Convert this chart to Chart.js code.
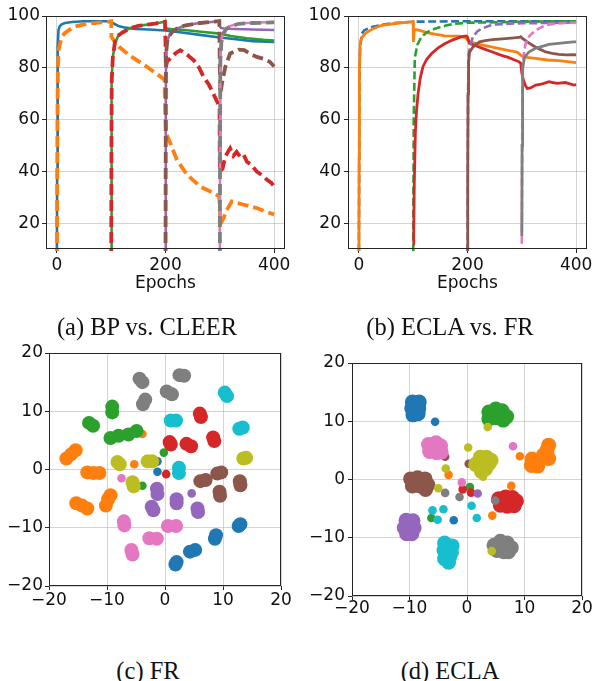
<!DOCTYPE html>
<html>
<head>
<meta charset="utf-8">
<script src="https://cdn.jsdelivr.net/npm/chart.js@4.4.0/dist/chart.umd.min.js"></script>
<style>
body { margin: 0; background: #fff; width: 593px; height: 681px; position: relative; overflow: hidden; }
canvas { position: absolute; }
.cap { position: absolute; font-family: "Liberation Serif", serif; font-size: 24.5px; line-height: 28px; color: #111; white-space: nowrap; transform: translateX(-50%); }
</style>
</head>
<body>
<canvas id="chartA" width="296" height="300" style="left:0;top:0"></canvas>
<canvas id="chartB" width="297" height="300" style="left:296px;top:0"></canvas>
<canvas id="chartC" width="296" height="290" style="left:0;top:330px"></canvas>
<canvas id="chartD" width="297" height="290" style="left:296px;top:330px"></canvas>
<div class="cap" id="capA" style="left:147px;top:313px"></div>
<div class="cap" id="capB" style="left:450px;top:313px"></div>
<div class="cap" id="capC" style="left:148px;top:657px"></div>
<div class="cap" id="capD" style="left:450px;top:657px"></div>
<script>
// captions and ticks
const captions = ['(a) BP vs. CLEER', '(b) ECLA vs. FR', '(c) FR', '(d) ECLA'];
const epochTicks = [0, 200, 400];
const accTicks = [20, 40, 60, 80, 100];
const tsneTicks = [-20, -10, 0, 10, 20];

const tab10 = ['#1f77b4', '#ff7f0e', '#2ca02c', '#d62728', '#9467bd',
               '#8c564b', '#e377c2', '#7f7f7f', '#bcbd22', '#17becf'];

// (a) BP vs. CLEER accuracy curves
const aBlueX = [0, 0.5, 1, 2, 3, 5, 9, 15, 28, 50, 95, 100, 107, 115, 126, 144, 170, 199, 230, 260, 300, 330, 360, 400];
const aBlueY = [0, 40, 75, 88, 94.5, 96, 96.8, 97.3, 97.7, 98, 98, 97.8, 96.8, 96, 95.5, 95, 94.8, 94.4, 93.6, 92.8, 91.7, 91, 90.3, 90];
const aOrangeX = [0, 0.5, 1, 2, 3, 6, 9, 15, 31, 55, 92, 100, 100.5, 105, 115, 126, 138, 165, 198, 200, 201, 209, 221, 240, 264, 285, 299, 300, 301, 307, 313, 322, 344, 368, 392, 400];
const aOrangeY = [0, 30, 60, 80, 86.8, 89.5, 91.9, 93.5, 95.8, 97, 97.7, 98, 92, 90.5, 88, 86.1, 84.2, 80.5, 75.5, 60, 54.7, 50.8, 44.4, 38.6, 34.1, 32, 30.3, 25, 19.5, 22, 25.1, 28.4, 27.1, 25.8, 23.9, 23.3];
const aGreenX = [100, 100.5, 101, 103, 107, 112, 120, 135, 150, 181, 199, 200, 202, 210, 240, 270, 300, 320, 350, 380, 400];
const aGreenY = [0, 50, 75, 84, 89.5, 92, 93.8, 95.3, 96.2, 97.1, 97.8, 96, 95.2, 95, 94.5, 93.8, 93.2, 92.3, 91.4, 90.8, 90.5];
const aRedX = [100, 100.5, 101, 103, 107, 112, 120, 135, 150, 181, 199, 200, 200.5, 203, 209, 218, 227, 240, 252, 262, 270, 280, 288, 296, 299.5, 300, 305, 310, 315, 319, 325, 331, 338, 344, 350, 358, 368, 378, 387, 395, 400];
const aRedY = [0, 50, 75, 84, 90, 92.3, 93.5, 95.3, 96.2, 97.1, 97.8, 90, 80, 82.5, 83.6, 85.5, 86.8, 85, 82.9, 80, 76.5, 73.5, 70, 66.5, 64.3, 40, 41, 45.7, 47.5, 48.9, 46, 47.5, 45.5, 46.3, 43.7, 42.5, 39.9, 38.5, 36.7, 35.5, 34.1];
const aPurpleX = [200, 200.5, 201, 203, 206, 212, 220, 235, 260, 290, 299, 300, 302, 310, 330, 360, 400];
const aPurpleY = [0, 60, 85, 90, 92, 93.8, 95, 96.3, 97.2, 97.8, 98, 96, 95.4, 95.1, 95, 94.8, 94.6];
const aBrownX = [200, 200.5, 201, 203, 206, 212, 220, 235, 260, 290, 299, 300, 301, 304, 310, 319, 327, 335, 345, 355, 368, 380, 392, 400];
const aBrownY = [0, 60, 85, 90, 92, 93.8, 95, 96.3, 97.2, 97.8, 98, 80, 70, 74, 80.3, 85.5, 86.2, 87, 86.8, 85.5, 84.2, 83.5, 82.3, 80.5];
const aPinkX = [300, 300.5, 301, 303, 306, 312, 320, 335, 360, 400];
const aPinkY = [0, 60, 85, 91, 93.5, 95.3, 96.2, 97.1, 97.4, 97.7];
const aGrayX = [300, 300.5, 301, 303, 306, 312, 320, 335, 360, 400];
const aGrayY = [0, 55, 83, 90, 93, 95, 96, 97, 97.3, 97.5];

// (b) ECLA vs. FR accuracy curves
const bBlueX = [0, 0.5, 1, 2, 3, 5.5, 10, 24, 45, 66, 100, 150, 200, 250, 300, 350, 400];
const bBlueY = [0, 40, 75, 86, 89, 93.2, 94.5, 95.8, 96.7, 97.3, 97.8, 97.9, 98, 98, 98, 98, 98];
const bOrangeX = [0, 0.5, 1, 2.4, 5, 11.6, 25, 42, 70, 97, 100, 100.5, 102, 110, 127, 158, 185, 197, 203.7, 222, 246, 270, 292, 300.5, 310, 325, 347, 368, 396, 400];
const bOrangeY = [0, 45, 80, 89.3, 91.5, 93.2, 95, 96.4, 97.2, 97.7, 97.8, 90, 94.8, 94.5, 93.5, 92.3, 92.2, 91.5, 90, 89, 88, 86.9, 86, 84.5, 84, 83.6, 83, 82.8, 82.1, 82];
const bGreenX = [100, 100.5, 101, 103, 108, 115, 125, 140, 160, 176, 200, 225, 260, 300, 350, 400];
const bGreenY = [0, 30, 60, 84, 89, 91.9, 93.7, 95.1, 96.3, 97, 97.4, 97.5, 97.6, 97.8, 97.9, 98];
const bRedX = [100, 101, 102, 104, 106, 109, 113, 118, 125, 134, 146, 158, 172, 188, 197.6, 200, 203.7, 215, 230, 246, 260, 275, 295, 298, 300, 302, 304, 307, 310, 316, 325.7, 338, 350, 365, 380, 396, 400];
const bRedY = [12, 16, 35, 54.7, 63, 70, 76, 80.4, 83.3, 85.5, 87.7, 89.3, 90.7, 91.9, 92.3, 91.9, 89.4, 88.5, 87.3, 86.1, 85, 84, 82.3, 81.7, 78, 76, 74.6, 73, 72, 72.2, 73.3, 73.8, 74.6, 74, 74.3, 73.3, 73.5];
const bPurpleX = [200, 200.5, 201, 202, 205, 210, 218, 225, 240, 250, 275, 300, 350, 400];
const bPurpleY = [0, 40, 70, 85, 88.5, 92, 94, 95, 96.2, 96.7, 97, 97.2, 97.3, 97.5];
const bBrownX = [200, 200.5, 201, 202, 203.7, 210, 222, 235, 246, 270, 295, 298, 300, 310, 319.5, 332, 344, 356, 368, 382, 396, 400];
const bBrownY = [0, 40, 70, 82, 86, 88, 90, 90.6, 90.9, 91.3, 91.7, 92, 91.5, 90, 88.7, 87.3, 86.1, 85.6, 85.2, 85, 85.1, 85];
const bPinkX = [300, 300.5, 301, 302, 304, 307, 313, 319, 330, 344, 360, 380, 400];
const bPinkY = [12, 40, 70, 80, 86, 89.4, 92, 93.3, 95, 96.5, 97, 97.3, 97.5];
const bGrayX = [300, 300.5, 301, 302, 305, 313, 325, 337.5, 350, 368, 385, 396, 400];
const bGrayY = [15, 50, 75, 80, 84, 86.1, 87.5, 88.3, 89, 89.4, 89.8, 90, 90];

// (c) FR t-SNE: cluster points and stray points per class
const frBlob = [
  [[1.8, -16.3], [2.0, -15.9], [4.3, -14.1], [5.2, -13.8], [8.6, -11.9], [8.8, -11.3], [12.7, -9.7], [13.0, -9.4]],
  [[-17.0, 1.9], [-16.2, 2.6], [-15.4, 3.3], [-13.4, -0.5], [-12.3, -0.6], [-11.3, -0.6], [-15.3, -5.8], [-14.3, -6.2], [-13.4, -6.7], [-10.2, -6.2], [-9.8, -5.1], [-9.4, -4.4]],
  [[-9.1, 9.8], [-9.1, 10.8], [-13.1, 8.0], [-12.4, 7.5], [-9.4, 5.4], [-8.0, 5.8], [-6.3, 6.0], [-4.9, 6.6]],
  [[6.0, 9.6], [6.2, 9.0], [0.8, 4.7], [1.0, 4.3], [3.7, 4.4], [4.5, 4.0], [8.3, 5.5], [8.5, 4.9]],
  [[-1.4, -3.3], [-1.3, -4.2], [2.0, -5.1], [2.0, -5.8], [5.6, -6.7], [5.7, -7.3], [-2.3, -6.4], [-2.0, -7.0]],
  [[6.1, -2.0], [7.0, -1.8], [9.0, -0.7], [9.7, -0.5], [9.4, -3.8], [9.5, -4.5], [12.9, -2.0], [13.0, -2.7]],
  [[-7.1, -8.9], [-7.0, -9.6], [-5.8, -13.8], [-5.6, -14.6], [-2.7, -11.8], [-1.4, -11.9], [0.5, -9.7], [1.9, -9.7]],
  [[-4.4, 15.6], [-3.9, 15.0], [-3.8, 11.2], [-3.4, 12.0], [2.5, 16.2], [3.3, 16.1], [0.3, 13.4], [1.2, 12.9]],
  [[-8.2, 1.3], [-7.8, 0.9], [-3.0, 1.4], [-2.2, 1.4], [-5.6, -2.2], [-5.4, -2.9], [13.5, 1.9], [14.0, 2.0]],
  [[10.3, 13.2], [10.7, 12.6], [1.0, 8.4], [1.9, 8.4], [12.8, 7.0], [13.4, 7.2], [2.4, 0.3], [2.4, -0.6]]
];
const frStray = [
  [[-1.3, 1.4], [-1.3, -0.4]],
  [[-5.3, 0.9], [-3.9, 6.1]],
  [[-0.2, 2.9], [-3.9, -2.8]],
  [[0.2, -0.8]],
  [[4.6, -4.1]],
  [],
  [[-7.5, -1.5]],
  [],
  [],
  []
];

// (d) ECLA t-SNE
const eclaBlob = [
  [[-9.5, 13.3], [-8.3, 13.3], [-9.6, 12.2], [-8.4, 12.2], [-9.4, 11.1], [-8.5, 11.3]],
  [[11.2, 2.4], [12.3, 2.3], [11.3, 3.5], [12.6, 3.4], [13.3, 4.2], [13.9, 5.0], [14.2, 5.9], [14.2, 3.6]],
  [[3.8, 11.6], [5.0, 12.1], [6.1, 11.8], [3.8, 10.4], [5.0, 10.6], [6.3, 10.2], [6.9, 10.8]],
  [[5.5, -3.3], [6.7, -3.0], [7.9, -3.1], [8.6, -3.7], [5.8, -4.4], [7.0, -4.6], [8.2, -4.5]],
  [[-10.6, -7.0], [-9.4, -7.1], [-10.9, -8.3], [-9.2, -8.3], [-10.5, -9.3], [-9.6, -9.3], [-10.0, -8.0]],
  [[-9.8, 0.1], [-8.6, 0.3], [-7.3, 0.1], [-9.5, -1.1], [-8.2, -1.1], [-6.8, -0.9], [-7.2, -1.7]],
  [[-6.7, 6.0], [-5.4, 6.3], [-4.6, 5.8], [-6.5, 4.8], [-5.3, 4.6], [-4.5, 4.7]],
  [[4.7, -11.3], [5.8, -10.6], [7.0, -10.9], [7.7, -11.7], [5.2, -12.2], [6.4, -12.4], [7.2, -12.4]],
  [[2.3, 3.8], [3.4, 3.8], [1.5, 2.6], [2.6, 2.5], [3.8, 2.7], [4.2, 3.3], [2.5, 1.4], [3.2, 1.8]],
  [[-3.9, -10.9], [-2.6, -11.4], [-4.0, -12.2], [-2.7, -12.5], [-3.9, -13.6], [-3.2, -14.2], [-3.0, -13.2]]
];
const eclaStray = [
  [[-5.55, 9.9], [-2.3, -7.0]],
  [[9.2, 4.0], [-3.2, 0.8], [7.7, -1.1], [4.4, -6.2]],
  [[-6.2, -6.6], [0.5, -1.3]],
  [[-0.75, -1.7], [0.7, -2.25]],
  [[1.85, -2.4]],
  [[-3.8, 3.9], [0.3, 2.7]],
  [[8.0, 5.7], [-0.9, -0.5]],
  [[-3.8, -2.3], [-1.3, -3.0], [4.9, -3.6]],
  [[0.2, 5.5], [3.6, 9.0], [-3.7, 1.9], [-5.0, -1.5], [2.8, 0.5], [4.3, -12.3]],
  [[-6.0, -5.3], [-4.1, -5.1], [-5.1, -6.9], [0.8, -4.5], [1.7, -6.6]]
];

const tickFont = { family: 'DejaVu Sans', size: 17 };
const gridCol = 'rgba(176,176,176,0.55)';

const frame = {
  id: 'frame',
  afterDatasetsDraw(chart) {
    const a = chart.chartArea, ctx = chart.ctx;
    ctx.save();
    ctx.strokeStyle = '#262626';
    ctx.lineWidth = 1;
    ctx.strokeRect(Math.round(a.left) + 0.5, Math.round(a.top) + 0.5,
                   Math.round(a.right - a.left) - 1, Math.round(a.bottom - a.top) - 1);
    ctx.restore();
  }
};

function fmt(v) { return String(v).replace('-', '\u2212'); }

function axis(min, max, ticks, size, pad, title) {
  const horiz = size.h !== undefined;
  const s = {
    type: 'linear', min: min, max: max,
    border: { display: false },
    grid: { color: gridCol, lineWidth: 1, tickLength: 4, tickColor: '#262626' },
    ticks: { font: tickFont, color: '#111', padding: pad, maxRotation: 0, autoSkip: false, callback: fmt },
    afterBuildTicks(sc) { sc.ticks = ticks.map(v => ({ value: v })); },
    afterFit(sc) {
      if (horiz) { sc.height = size.h; } else { sc.width = size.w; }
      sc.paddingLeft = 0; sc.paddingRight = 0; sc.paddingTop = 0; sc.paddingBottom = 0;
    }
  };
  if (title) {
    s.title = { display: true, text: title, font: tickFont, color: '#111', padding: { top: 0, bottom: 6 } };
  }
  return s;
}

function pts(xs, ys) { return xs.map((x, i) => ({ x: x, y: ys[i] })); }

function lineSet(xs, ys, col, dashed, k, w) {
  return {
    data: pts(xs, ys), borderColor: col, backgroundColor: col,
    borderWidth: dashed ? w.d : w.s, borderDash: dashed ? w.dash : [],
    pointRadius: 0, tension: 0, fill: false, order: -k, clip: 2
  };
}

function lineChart(id, series, w, pad, area) {
  const datasets = series.map((s, k) => lineSet(s[0], s[1], tab10[k], k % 2 === (w.dashOdd ? 1 : 0), k, w));
  new Chart(document.getElementById(id), {
    type: 'line',
    data: { datasets: datasets },
    plugins: [frame],
    options: {
      responsive: false, animation: false,
      layout: { padding: { top: area.top, right: area.right, left: 0, bottom: 0 } },
      plugins: { legend: { display: false }, tooltip: { enabled: false } },
      scales: {
        x: axis(-20, 420, epochTicks, { h: area.xh }, pad.x, 'Epochs'),
        y: axis(10, 100, accTicks, { w: area.yw }, pad.y)
      }
    }
  });
}

function scatterChart(id, blobs, strays, r, pad, area) {
  const datasets = [];
  blobs.forEach((b, k) => {
    datasets.push({ data: b.map(p => ({ x: p[0], y: p[1] })), backgroundColor: tab10[k], borderWidth: 0,
                    pointRadius: r.blob, order: -2 * k });
    datasets.push({ data: strays[k].map(p => ({ x: p[0], y: p[1] })), backgroundColor: tab10[k], borderWidth: 0,
                    pointRadius: r.dot, order: -2 * k - 1 });
  });
  new Chart(document.getElementById(id), {
    type: 'scatter',
    data: { datasets: datasets },
    plugins: [frame],
    options: {
      responsive: false, animation: false,
      layout: { padding: { top: area.top, right: area.right, left: 0, bottom: 0 } },
      plugins: { legend: { display: false }, tooltip: { enabled: false } },
      scales: {
        x: axis(-20, 20, tsneTicks, { h: area.xh }, pad.x),
        y: axis(-20, 20, tsneTicks, { w: area.yw }, pad.y)
      }
    }
  });
}

lineChart('chartA', [
  [aBlueX, aBlueY], [aOrangeX, aOrangeY], [aGreenX, aGreenY], [aRedX, aRedY],
  [aPurpleX, aPurpleY], [aBrownX, aBrownY], [aPinkX, aPinkY], [aGrayX, aGrayY]
], { s: 2.6, d: 3.8, dash: [11, 5], dashOdd: true }, { x: 2, y: 2 },
   { top: 16, right: 11, xh: 51, yw: 46 });

lineChart('chartB', [
  [bBlueX, bBlueY], [bOrangeX, bOrangeY], [bGreenX, bGreenY], [bRedX, bRedY],
  [bPurpleX, bPurpleY], [bBrownX, bBrownY], [bPinkX, bPinkY], [bGrayX, bGrayY]
], { s: 2.8, d: 2.6, dash: [8, 3.5], dashOdd: false }, { x: 2, y: 3 },
   { top: 16, right: 6, xh: 51, yw: 52 });

scatterChart('chartC', frBlob, frStray, { blob: 7, dot: 4.3 }, { x: 0, y: 2 }, { top: 23, right: 15, xh: 34, yw: 49 });
scatterChart('chartD', eclaBlob, eclaStray, { blob: 7.5, dot: 4.3 }, { x: -2, y: 3 }, { top: 33, right: 11, xh: 24, yw: 56 });

['capA', 'capB', 'capC', 'capD'].forEach((id, i) => { document.getElementById(id).textContent = captions[i]; });
</script>
</body>
</html>
